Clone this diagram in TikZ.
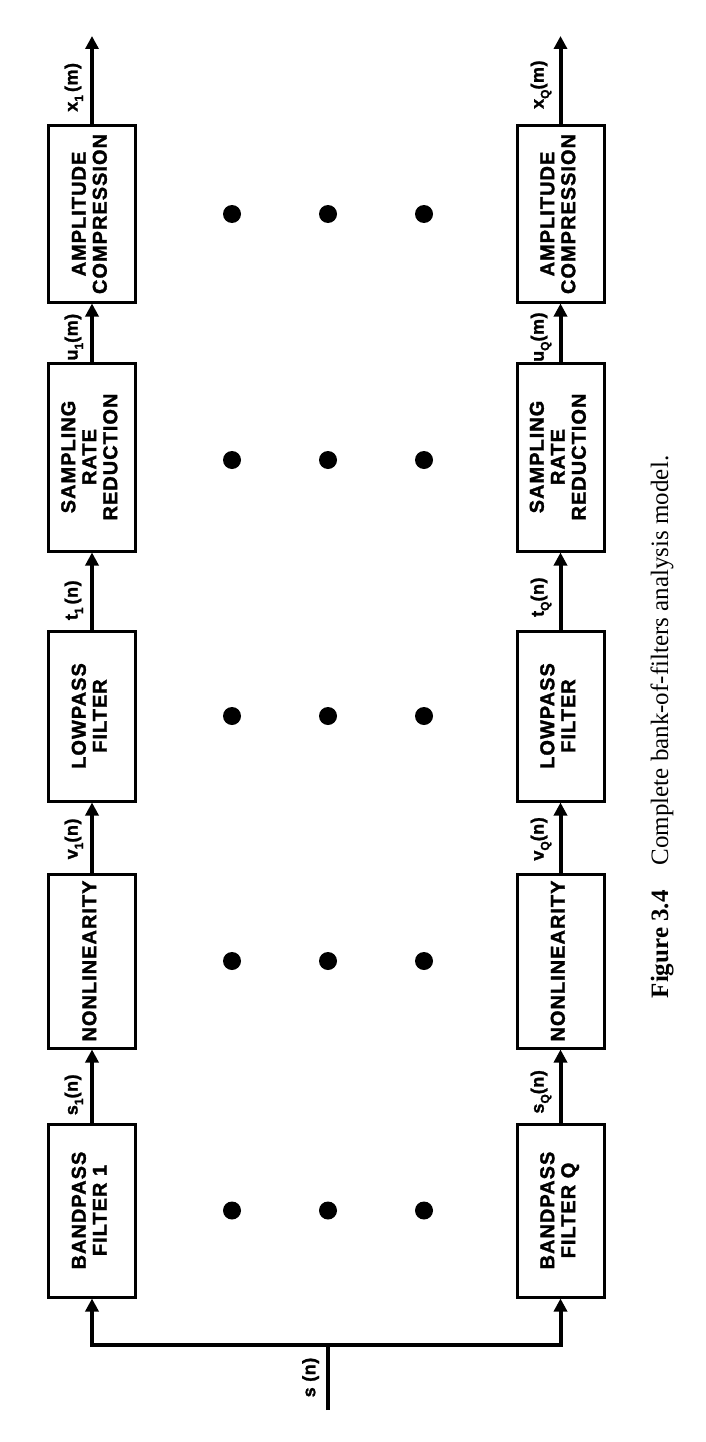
\documentclass[tikz,border=0pt]{standalone}
\usepackage{fontspec}
\setmainfont{Liberation Serif}
\newfontfamily\boxfont[LetterSpace=5,FakeBold=1.6]{Liberation Sans Bold}
\newfontfamily\labfont[LetterSpace=3,FakeBold=1.4]{Liberation Sans Bold}
\usetikzlibrary{arrows.meta,calc}
\newcommand\rottext[1]{\rotatebox{90}{\begin{tabular}{@{}c@{}}#1\end{tabular}}}
\newcommand\rlab[1]{\rotatebox{90}{#1}}
\newcommand\lsub[1]{\raisebox{-0.3em}{\fontsize{12}{12}\selectfont #1}}
\begin{document}
\begin{tikzpicture}[x=1pt,y=-1pt,
  blk/.style={draw, line width=3pt, minimum width=87pt, inner sep=0pt,
    font=\boxfont\fontsize{20}{21}\selectfont},
  flow/.style={line width=4pt, -{Triangle[length=13pt,width=13pt]}},
  wire/.style={line width=4pt},
  lab/.style={font=\labfont\fontsize{18}{18}\selectfont, inner sep=0pt, left=7pt},
  dotc/.style={fill=black, circle, minimum size=18pt, inner sep=0pt},
]
\useasboundingbox (0,0) rectangle (706,1442);

% chain 1
\node[blk, minimum height=176pt] (ac1) at (92,214) {\rottext{AMPLITUDE\\COMPRESSION}};
\node[blk, minimum height=188pt] (sr1) at (92,457) {\rottext{SAMPLING\\RATE\\REDUCTION}};
\node[blk, minimum height=170pt] (lp1) at (92,716) {\rottext{LOWPASS\\FILTER}};
\node[blk, minimum height=174pt] (nl1) at (92,961) {\rottext{NONLINEARITY}};
\node[blk, minimum height=173pt] (bp1) at (92,1210.5) {\rottext{BANDPASS\\FILTER 1}};
\coordinate (out1) at (92,36);

% chain Q
\node[blk, minimum height=176pt] (acQ) at (560.5,214) {\rottext{AMPLITUDE\\COMPRESSION}};
\node[blk, minimum height=188pt] (srQ) at (560.5,457) {\rottext{SAMPLING\\RATE\\REDUCTION}};
\node[blk, minimum height=170pt] (lpQ) at (560.5,716) {\rottext{LOWPASS\\FILTER}};
\node[blk, minimum height=174pt] (nlQ) at (560.5,961) {\rottext{NONLINEARITY}};
\node[blk, minimum height=173pt] (bpQ) at (560.5,1210.5) {\rottext{BANDPASS\\FILTER Q}};
\coordinate (outQ) at (560.5,36);

% connectors chain 1
\draw[flow] (bp1.north) -- node[lab,pos=0.38]{\rlab{s\lsub{1}(n)}} (nl1.south);
\draw[flow] (nl1.north) -- node[lab,pos=0.48]{\rlab{v\lsub{1}(n)}} (lp1.south);
\draw[flow] (lp1.north) -- node[lab,pos=0.38]{\rlab{t\lsub{1}\,(n)}} (sr1.south);
\draw[flow] (sr1.north) -- node[lab,pos=0.42]{\rlab{u\lsub{1}(m)}} (ac1.south);
\draw[flow] (ac1.north) -- node[lab,pos=0.42]{\rlab{x\lsub{1}\,(m)}} (out1);

% connectors chain Q
\draw[flow] (bpQ.north) -- node[lab,pos=0.42]{\rlab{s\lsub{Q}(n)}} (nlQ.south);
\draw[flow] (nlQ.north) -- node[lab,pos=0.48]{\rlab{v\lsub{Q}(n)}} (lpQ.south);
\draw[flow] (lpQ.north) -- node[lab,pos=0.42]{\rlab{t\lsub{Q}(n)}} (srQ.south);
\draw[flow] (srQ.north) -- node[lab,pos=0.42]{\rlab{u\lsub{Q}(m)}} (acQ.south);
\draw[flow] (acQ.north) -- node[lab,pos=0.45]{\rlab{x\lsub{Q}(m)}} (outQ);

% input
\coordinate (src) at (328,1410);
\coordinate (split) at (328,1345);
\draw[wire] (src) -- node[lab,pos=0.5]{\rlab{s (n)}} (split);
\draw[flow] (split) -| (bp1.south);
\draw[flow] (split) -| (bpQ.south);

% dots
\foreach \r/\yy in {a/214,b/460,c/716,d/961,e/1210.5}{
  \foreach \c/\xx in {1/232,2/328,3/424}{
    \node[dotc] (dot-\r\c) at (\xx,\yy) {};
  }
}

% caption
\node[rotate=90, font=\fontsize{25}{25}\selectfont] (cap) at (662,727)
  {\textbf{Figure 3.4}\quad Complete bank-of-filters analysis model.};
\end{tikzpicture}
\end{document}
